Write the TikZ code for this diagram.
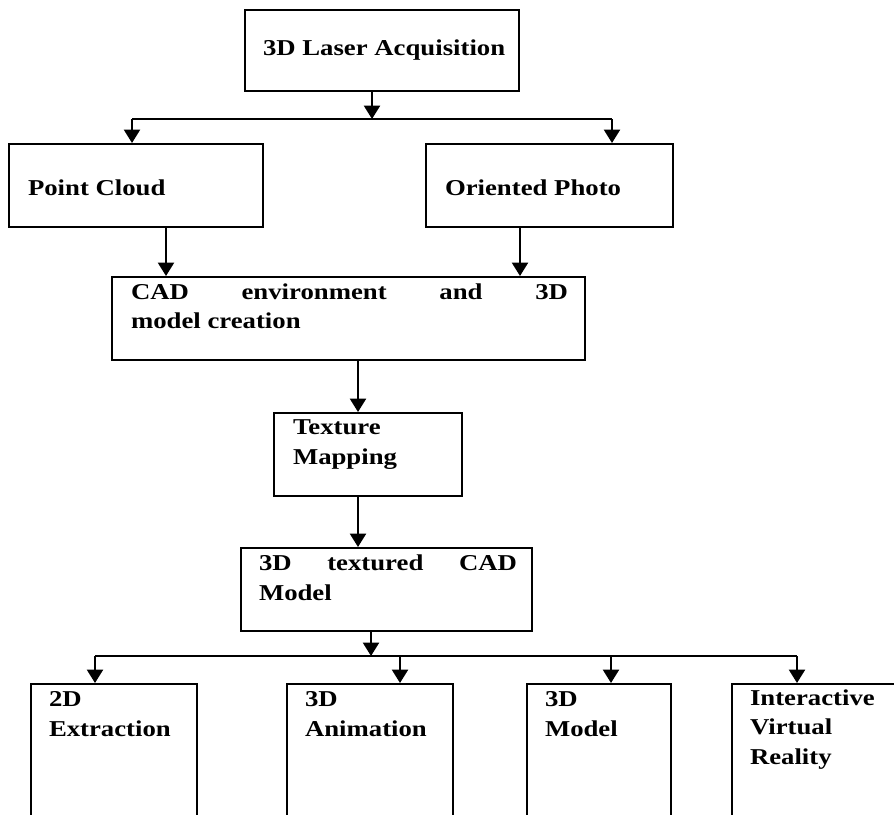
\documentclass[tikz,border=0pt]{standalone}
\usepackage{fontspec}
\setmainfont[FakeStretch=1.18]{Liberation Serif}
\usetikzlibrary{arrows.meta}

\tikzset{every picture/.style={line width=1.5pt}}
\tikzset{
  stagebox/.style={draw, rectangle, inner sep=0pt},
  stagetext/.style={anchor=base west, inner sep=0pt, align=left, font=\fontsize{17}{22}\selectfont\bfseries},
  flow/.style={-{Triangle[width=12pt,length=10pt]}}
}

\begin{document}
\begin{tikzpicture}[x=0.75pt,y=0.75pt,yscale=-1]
\useasboundingbox (0,0) rectangle (894,815);
\clip (0,0) rectangle (894,815);

%Shape: Rectangle [laser]
\node [stagebox, minimum width=205.5pt, minimum height=60.75pt] (laser) at (382,50.5) {};
%Shape: Rectangle [pc]
\node [stagebox, minimum width=190.5pt, minimum height=62.25pt] (pc) at (136,185.5) {};
%Shape: Rectangle [photo]
\node [stagebox, minimum width=185.25pt, minimum height=62.25pt] (photo) at (549.5,185.5) {};
%Shape: Rectangle [cad]
\node [stagebox, minimum width=354.75pt, minimum height=62.25pt] (cad) at (348.5,318.5) {};
%Shape: Rectangle [tex]
\node [stagebox, minimum width=141pt, minimum height=62.25pt] (tex) at (368,454.5) {};
%Shape: Rectangle [model]
\node [stagebox, minimum width=218.25pt, minimum height=62.25pt] (model) at (386.5,589.5) {};
%Shape: Rectangle [extr]
\node [stagebox, minimum width=124.5pt, minimum height=187.5pt] (extr) at (114,809) {};
%Shape: Rectangle [anim]
\node [stagebox, minimum width=124.5pt, minimum height=187.5pt] (anim) at (370,809) {};
%Shape: Rectangle [mdl]
\node [stagebox, minimum width=108pt, minimum height=187.5pt] (mdl) at (599,809) {};
%Shape: Rectangle [ivr]
\node [stagebox, minimum width=171pt, minimum height=187.5pt] (ivr) at (846,809) {};

%Straight Lines [laser -> pc, photo]
\coordinate (bus1) at (372,119);
\coordinate (bus1-l) at (132,119);
\coordinate (bus1-r) at (612,119);
\draw [flow] (laser.south -| bus1) -- (bus1);
\draw (bus1-l) -- (bus1-r);
\draw [flow] (bus1-l) -- (pc.north -| bus1-l);
\draw [flow] (bus1-r) -- (photo.north -| bus1-r);
%Straight Lines [pc, photo -> cad]
\coordinate (pc-x) at (166,0);
\coordinate (photo-x) at (520,0);
\draw [flow] (pc.south -| pc-x) -- (cad.north -| pc-x);
\draw [flow] (photo.south -| photo-x) -- (cad.north -| photo-x);
%Straight Lines [cad -> tex -> model]
\coordinate (mid-x) at (358,0);
\draw [flow] (cad.south -| mid-x) -- (tex.north -| mid-x);
\draw [flow] (tex.south -| mid-x) -- (model.north -| mid-x);
%Straight Lines [model -> outputs]
\coordinate (bus2) at (371,656);
\coordinate (bus2-a) at (95,656);
\coordinate (bus2-b) at (400,656);
\coordinate (bus2-c) at (611,656);
\coordinate (bus2-d) at (797,656);
\draw [flow] (model.south -| bus2) -- (bus2);
\draw (bus2-a) -- (bus2-d);
\draw [flow] (bus2-a) -- (extr.north -| bus2-a);
\draw [flow] (bus2-b) -- (anim.north -| bus2-b);
\draw [flow] (bus2-c) -- (mdl.north -| bus2-c);
\draw [flow] (bus2-d) -- (ivr.north -| bus2-d);

% Text Node (base = last line)
\node [stagetext] (laser-t) at (262,55) {3D Laser Acquisition};
% Text Node
\node [stagetext] (pc-t) at (27,195) {Point Cloud};
% Text Node
\node [stagetext] (photo-t) at (444,195) {Oriented Photo};
% Text Node
\node [stagetext] (cad-t) at (130,328.5) {\makebox[327.75pt][s]{CAD\hfill environment\hfill and\hfill 3D}\\model creation};
% Text Node
\node [stagetext] (tex-t) at (292,464) {Texture\\Mapping};
% Text Node
\node [stagetext] (model-t) at (258,600) {\makebox[193.5pt][s]{3D\hfill textured\hfill CAD}\\Model};
% Text Node
\node [stagetext] (extr-t) at (48,736) {2D\\Extraction};
% Text Node
\node [stagetext] (anim-t) at (304,736) {3D\\Animation};
% Text Node
\node [stagetext] (mdl-t) at (544,736) {3D\\Model};
% Text Node
\node [stagetext] (ivr-t) at (749,764) {Interactive\\Virtual\\Reality};

\end{tikzpicture}
\end{document}
